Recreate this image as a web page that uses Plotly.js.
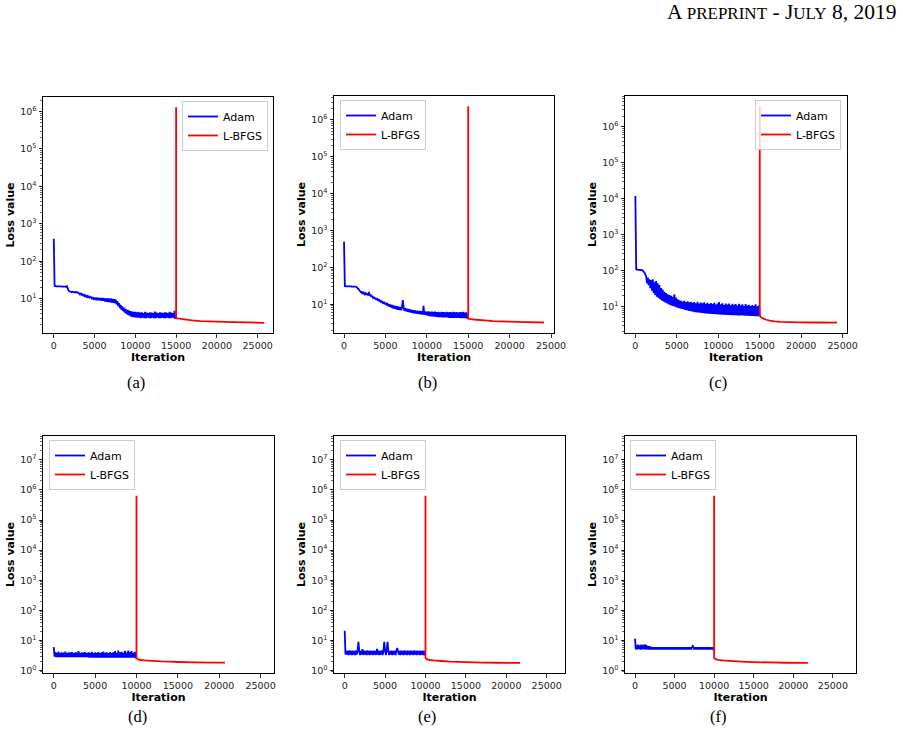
<!DOCTYPE html>
<html><head><meta charset="utf-8">
<script src="https://cdn.plot.ly/plotly-3.0.1.min.js"></script>
<style>html,body{margin:0;padding:0;background:#fff}#chart{width:903px;height:738px}</style>
</head><body><div id="chart"></div>
<script>
// Adam loss sampled every ADAM_STEP iterations (index * step = iteration)
const ADAM_STEP = 100;

const adamA = [
 400, 21.7, 21.5, 21.4, 21.3, 21.3, 21.2, 21.2, 21.1, 21.1,
 21.0, 21.0, 21.0, 20.9, 20.9, 20.8, 21.6, 19.0, 16.5, 15.8,
 15.5, 15.2, 14.8, 15.3, 14.9, 15.1, 14.6, 15.0, 14.5, 14.8,
 14.2, 13.9, 13.0, 13.6, 12.6, 13.0, 12.1, 12.6, 11.6, 12.2,
 11.2, 11.8, 10.9, 11.4, 10.6, 11.0, 10.9, 10.0, 10.6, 9.8,
 10.5, 9.2, 10.6, 9.1, 10.5, 9.0, 10.4, 8.9, 10.4, 8.8,
 10.3, 8.7, 10.2, 8.3, 10.1, 8.2, 10.3, 8.1, 10.0, 8.0,
 10.1, 7.8, 9.8, 7.7, 9.6, 7.6, 9.3, 7.0, 8.6, 6.3,
 7.6, 5.6, 6.8, 5.0, 6.2, 4.6, 5.7, 4.2, 5.3, 3.9,
 5.0, 3.7, 4.8, 3.5, 4.6, 3.3, 4.5, 3.2, 4.4, 3.2,
 4.4, 3.1, 4.3, 3.1, 4.4, 3.1, 4.2, 3.0, 4.3, 3.1,
 4.1, 3.0, 4.4, 3.0, 4.2, 3.1, 4.1, 3.0, 4.3, 3.0,
 4.2, 3.1, 4.1, 3.0, 4.5, 3.0, 4.2, 3.1, 4.1, 3.0,
 4.3, 3.0, 4.2, 3.1, 4.1, 3.0, 4.3, 3.0, 4.2, 3.1,
 4.1, 3.0, 4.4, 3.0, 4.2, 3.1, 4.1, 3.0, 4.7, 3.0,
 3.0];
const lbfgsAx = [15000, 15001, 15200, 16000, 17000, 18000, 19000, 20000, 22000, 24000, 25800];
const lbfgsAy = [1.3e6, 3.0, 2.95, 2.8, 2.62, 2.5, 2.45, 2.42, 2.35, 2.3, 2.25];

const adamB = [
 500, 31, 31, 30.8, 30.7, 30.6, 30.5, 30.5, 30.4, 30.3,
 30.2, 30.1, 30.0, 30.2, 30.0, 29.5, 28, 26.5, 25, 23,
 22, 20.5, 22, 19.5, 20.5, 18.6, 20, 18, 19.5, 17.5,
 21.5, 17, 18.5, 15.8, 17, 15, 16, 14, 15, 13.2,
 14.5, 12.5, 13.8, 11.8, 13, 11, 12.2, 10.5, 11.6, 10,
 11.2, 9.5, 10.8, 9, 10.2, 8.6, 9.8, 8.2, 9.5, 7.8,
 9.2, 7.5, 9, 7.3, 8.8, 7.1, 8.6, 7, 8.4, 6.9,
 8.2, 13, 8.0, 6.7, 7.8, 6.5, 7.6, 6.3, 7.4, 6.1,
 7.2, 6.0, 7.0, 5.8, 6.9, 5.7, 6.8, 5.6, 6.7, 5.5,
 6.6, 5.4, 6.6, 5.3, 6.5, 5.3, 9.0, 5.2, 6.4, 5.1,
 6.3, 4.9, 6.4, 4.8, 6.2, 4.7, 6.3, 4.7, 6.2, 4.6,
 6.3, 4.6, 6.1, 4.5, 6.2, 4.5, 6.0, 4.5, 6.2, 4.4,
 6.1, 4.4, 6.0, 4.4, 6.2, 4.4, 6.0, 4.3, 6.1, 4.3,
 6.0, 4.3, 6.2, 4.3, 6.0, 4.3, 6.1, 4.3, 5.9, 4.3,
 6.1, 4.2, 6.0, 4.2, 6.2, 4.2, 5.9, 4.2, 6.0, 4.2,
 4.1];
const lbfgsBx = [15000, 15001, 15300, 16000, 17000, 18000, 19000, 20000, 22000, 24150];
const lbfgsBy = [2.35e6, 4.1, 3.95, 3.8, 3.65, 3.5, 3.42, 3.36, 3.27, 3.2];

const adamC = [
 12000, 110, 108, 107, 106, 106, 105, 105, 104, 100,
 95, 88, 80, 70, 45, 65, 40, 58, 33, 55,
 28, 58, 24, 48, 21, 52, 19, 45, 17.5, 40,
 16, 33, 15, 30, 14, 26, 13.2, 24, 12.5, 22,
 11.8, 21, 11.2, 20, 10.7, 19, 10.3, 22, 10, 18,
 9.6, 16, 9.3, 15, 9.0, 14.6, 8.7, 14, 8.5, 14.5,
 8.2, 13.5, 8.0, 14.2, 7.8, 13.2, 7.6, 13.8, 7.4, 12.8,
 7.3, 13.5, 7.1, 12.5, 7.0, 13.8, 6.9, 12.2, 6.8, 13,
 6.7, 12.4, 6.6, 13.2, 6.5, 12, 6.5, 12.8, 6.4, 11.8,
 6.4, 12.6, 6.3, 11.8, 6.3, 12.9, 6.2, 11.5, 6.2, 12.3,
 6.1, 13.5, 6.1, 11.6, 6.0, 12.4, 6.0, 11.2, 6.0, 12.2,
 5.9, 11.5, 5.9, 12.3, 5.9, 11.0, 5.8, 12.0, 5.8, 11.3,
 5.8, 11.8, 5.8, 10.8, 5.7, 12.0, 5.7, 11.0, 5.7, 11.6,
 5.7, 10.6, 5.6, 11.8, 5.6, 10.8, 5.6, 11.4, 5.6, 10.5,
 5.6, 11.2, 5.6, 10.4, 5.5, 11.6, 5.5, 10.2, 5.5, 11.0,
 5.5];
const lbfgsCx = [15000, 15001, 15200, 15500, 15800, 16200, 16800, 17500, 18500, 20000, 22000, 24320];
const lbfgsCy = [3.8e6, 5.6, 5.0, 4.6, 4.35, 4.1, 3.9, 3.8, 3.75, 3.7, 3.65, 3.6];

const adamD = [
 6.0, 2.9, 4.1, 2.8, 3.9, 2.8, 4.2, 2.8, 3.8, 2.8,
 4.0, 2.8, 3.9, 2.8, 4.3, 2.8, 3.8, 2.8, 4.0, 2.8,
 3.9, 2.8, 4.1, 2.8, 3.8, 2.8, 4.0, 2.8, 3.9, 2.8,
 4.4, 2.8, 3.8, 2.8, 4.0, 2.8, 3.9, 2.8, 4.1, 2.8,
 3.8, 2.8, 4.0, 2.7, 3.9, 2.7, 4.2, 2.7, 3.8, 2.7,
 4.0, 2.7, 3.9, 2.7, 4.1, 2.7, 3.8, 2.7, 4.0, 2.7,
 4.3, 2.7, 3.9, 2.7, 4.0, 2.7, 3.8, 2.7, 4.1, 2.7,
 3.9, 2.7, 4.0, 2.7, 4.4, 2.7, 3.9, 2.7, 4.6, 2.7,
 4.0, 2.7, 4.2, 2.7, 3.9, 2.7, 4.5, 2.7, 4.0, 2.7,
 4.6, 2.7, 4.1, 2.7, 4.4, 2.7, 3.9, 2.7, 4.2, 2.7,
 2.6];
const lbfgsDx = [10000, 10001, 10200, 10500, 11000, 12000, 13000, 14000, 15000, 17000, 19000, 20700];
const lbfgsDy = [6.4e5, 2.55, 2.35, 2.25, 2.18, 2.1, 2.02, 1.97, 1.93, 1.88, 1.85, 1.83];

const adamE = [
 21, 3.4, 4.6, 3.4, 4.5, 3.3, 4.7, 3.4, 4.5, 3.3,
 4.6, 3.4, 4.5, 3.3, 4.6, 3.4, 4.5, 9.0, 4.6, 3.3,
 4.5, 3.4, 5.2, 3.3, 4.6, 3.4, 4.5, 3.3, 4.7, 3.4,
 4.5, 3.3, 4.6, 3.4, 4.5, 3.3, 4.6, 3.4, 4.5, 3.3,
 5.3, 3.4, 4.6, 3.3, 4.5, 3.4, 4.7, 3.3, 4.5, 9.0,
 4.6, 3.3, 4.5, 9.0, 4.6, 3.3, 4.5, 3.4, 4.6, 3.3,
 4.5, 3.4, 4.6, 3.3, 4.5, 5.6, 4.6, 3.4, 4.5, 3.3,
 4.6, 3.4, 4.5, 3.3, 4.7, 3.4, 4.5, 3.3, 4.6, 3.4,
 4.5, 3.3, 4.6, 3.4, 4.5, 3.3, 4.7, 3.4, 4.5, 3.3,
 4.6, 3.4, 4.5, 3.3, 4.6, 3.4, 4.5, 3.3, 4.6, 3.4,
 3.4];
const lbfgsEx = [10000, 10001, 10200, 10500, 11000, 12000, 13000, 14000, 15000, 17000, 19000, 21690];
const lbfgsEy = [6.4e5, 2.6, 2.35, 2.25, 2.17, 2.08, 2.0, 1.95, 1.9, 1.85, 1.82, 1.8];

const adamF = [
 11.5, 5.0, 6.8, 5.1, 7.2, 5.2, 6.9, 5.0, 7.3, 5.1,
 7.0, 5.2, 7.4, 5.0, 7.1, 5.1, 6.6, 5.0, 6.4, 5.0,
 6.2, 5.0, 6.0, 5.0, 6.0, 5.0, 5.9, 5.0, 6.0, 5.0,
 5.9, 5.0, 6.0, 5.0, 5.9, 5.0, 6.0, 5.0, 5.9, 5.0,
 6.0, 5.0, 5.9, 5.0, 6.0, 5.0, 5.9, 5.0, 6.0, 5.0,
 5.9, 5.0, 6.0, 5.0, 5.9, 5.0, 6.0, 5.0, 5.9, 5.0,
 6.0, 5.0, 5.9, 5.0, 6.0, 5.0, 5.9, 5.0, 6.0, 5.0,
 5.9, 5.0, 6.0, 6.6, 5.9, 5.0, 6.0, 5.0, 5.9, 5.0,
 6.0, 5.0, 5.9, 5.0, 6.0, 5.0, 5.9, 5.0, 6.0, 5.0,
 5.9, 5.0, 6.0, 5.0, 5.9, 5.0, 6.0, 5.0, 5.9, 5.0,
 5.0];
const lbfgsFx = [10000, 10001, 10200, 10500, 11000, 12000, 13000, 14000, 15000, 17000, 19000, 21850];
const lbfgsFy = [6.4e5, 2.6, 2.4, 2.28, 2.2, 2.1, 2.02, 1.96, 1.92, 1.86, 1.82, 1.8];

const seriesNames = ['Adam', 'L-BFGS'];
const xTickVals = [0, 5000, 10000, 15000, 20000, 25000];
const yTickVals = [1, 10, 100, 1e3, 1e4, 1e5, 1e6, 1e7];
const yTickText = ['10<sup>0</sup>', '10<sup>1</sup>', '10<sup>2</sup>', '10<sup>3</sup>',
                   '10<sup>4</sup>', '10<sup>5</sup>', '10<sup>6</sup>', '10<sup>7</sup>'];
const captions = ['(a)', '(b)', '(c)', '(d)', '(e)', '(f)'];
const headerText = 'A <span style="font-size:17px">PREPRINT</span> - J<span style="font-size:17px">ULY</span> 8, 2019';

// ---- layout / style (pixels in a 903x738 page) ----
const W = 903, H = 738;
const panels = [
  {adam: adamA, lx: lbfgsAx, ly: lbfgsAy, box: [43, 273, 97, 333],  xr: [-1320, 26880], yr: [0.08, 6.39],  leg: {x: 268, y: 101, right: true}},
  {adam: adamB, lx: lbfgsBx, ly: lbfgsBy, box: [334, 554, 96, 333], xr: [-1210, 25360], yr: [0.22, 6.65],  leg: {x: 340, y: 100, right: false}},
  {adam: adamC, lx: lbfgsCx, ly: lbfgsCy, box: [625, 847, 96, 333], xr: [-1250, 25520], yr: [0.27, 6.86],  leg: {x: 841, y: 100, right: true}},
  {adam: adamD, lx: lbfgsDx, ly: lbfgsDy, box: [43, 274, 436, 673], xr: [-1300, 26620], yr: [-0.08, 7.79], leg: {x: 49, y: 440, right: false}},
  {adam: adamE, lx: lbfgsEx, ly: lbfgsEy, box: [334, 565, 436, 673], xr: [-1320, 27260], yr: [-0.08, 7.79], leg: {x: 340, y: 440, right: false}},
  {adam: adamF, lx: lbfgsFx, ly: lbfgsFy, box: [625, 856, 436, 673], xr: [-1265, 27930], yr: [-0.08, 7.79], leg: {x: 630, y: 440, right: false}}
];
const captionPos = [[136, 382], [427, 382], [718, 382], [137, 716], [427, 716], [718, 716]];

const FONT = 'DejaVu Sans, Verdana, sans-serif';
const SERIF = 'Liberation Serif, Times New Roman, serif';
const traces = [];
const layout = {
  width: W, height: H,
  margin: {l: 0, r: 0, t: 0, b: 0},
  paper_bgcolor: '#fff', plot_bgcolor: '#fff',
  font: {family: FONT, color: '#000'},
  annotations: [],
  showlegend: true
};

panels.forEach((p, i) => {
  const s = i === 0 ? '' : String(i + 1);
  const xa = 'x' + s, ya = 'y' + s, lg = 'legend' + s;
  traces.push({
    type: 'scatter', mode: 'lines', name: seriesNames[0],
    x: p.adam.map((_, k) => k * ADAM_STEP), y: p.adam,
    xaxis: xa, yaxis: ya, legend: lg,
    line: {color: '#0000ff', width: 1.8, simplify: false}, hoverinfo: 'x+y'
  });
  traces.push({
    type: 'scatter', mode: 'lines', name: seriesNames[1],
    x: p.lx, y: p.ly,
    xaxis: xa, yaxis: ya, legend: lg,
    line: {color: '#ff0000', width: 1.8, simplify: false}, hoverinfo: 'x+y'
  });
  const [x0, x1, y0, y1] = p.box;
  layout['xaxis' + s] = {
    domain: [x0 / W, x1 / W], anchor: ya, range: p.xr,
    tickmode: 'array', tickvals: xTickVals, tickformat: 'd',
    ticks: 'outside', ticklen: 3.5, tickwidth: 0.8, tickcolor: '#000',
    showline: true, linecolor: '#000', linewidth: 1, mirror: true,
    showgrid: false, zeroline: false,
    tickfont: {family: FONT, size: 9.5, color: '#222'},
    title: {text: 'Iteration', font: {family: FONT, size: 11, weight: 'bold', color: '#000'}, standoff: 2}
  };
  layout['yaxis' + s] = {
    type: 'log', domain: [1 - y1 / H, 1 - y0 / H], anchor: xa, range: p.yr,
    tickmode: 'array', tickvals: yTickVals, ticktext: yTickText,
    ticks: 'outside', ticklen: 3.5, tickwidth: 0.8, tickcolor: '#000',
    minor: {ticks: 'outside', ticklen: 2, tickwidth: 0.6, tickcolor: '#000', dtick: 'D1', showgrid: false},
    showline: true, linecolor: '#000', linewidth: 1, mirror: true,
    showgrid: false, zeroline: false,
    tickfont: {family: FONT, size: 9.5, color: '#222'},
    title: {text: 'Loss value', font: {family: FONT, size: 11, weight: 'bold', color: '#000'}, standoff: 3}
  };
  layout[lg] = {
    x: p.leg.x / W, y: 1 - p.leg.y / H,
    xanchor: p.leg.right ? 'right' : 'left', yanchor: 'top',
    xref: 'paper', yref: 'paper',
    bgcolor: 'rgba(255,255,255,0.8)', bordercolor: '#cccccc', borderwidth: 1,
    font: {family: FONT, size: 11, color: '#000'},
    itemwidth: 30, tracegroupgap: 0
  };
  layout.annotations.push({
    text: captions[i], xref: 'paper', yref: 'paper',
    x: captionPos[i][0] / W, y: 1 - captionPos[i][1] / H,
    xanchor: 'center', yanchor: 'middle', showarrow: false,
    font: {family: SERIF, size: 16.5, color: '#000'}
  });
});

layout.annotations.push({
  text: headerText, xref: 'paper', yref: 'paper',
  x: 898 / W, y: 1 - 12 / H, xanchor: 'right', yanchor: 'middle', showarrow: false,
  font: {family: SERIF, size: 21.5, color: '#000'}
});

Plotly.newPlot('chart', traces, layout, {staticPlot: true, displayModeBar: false});
</script>
</body></html>
